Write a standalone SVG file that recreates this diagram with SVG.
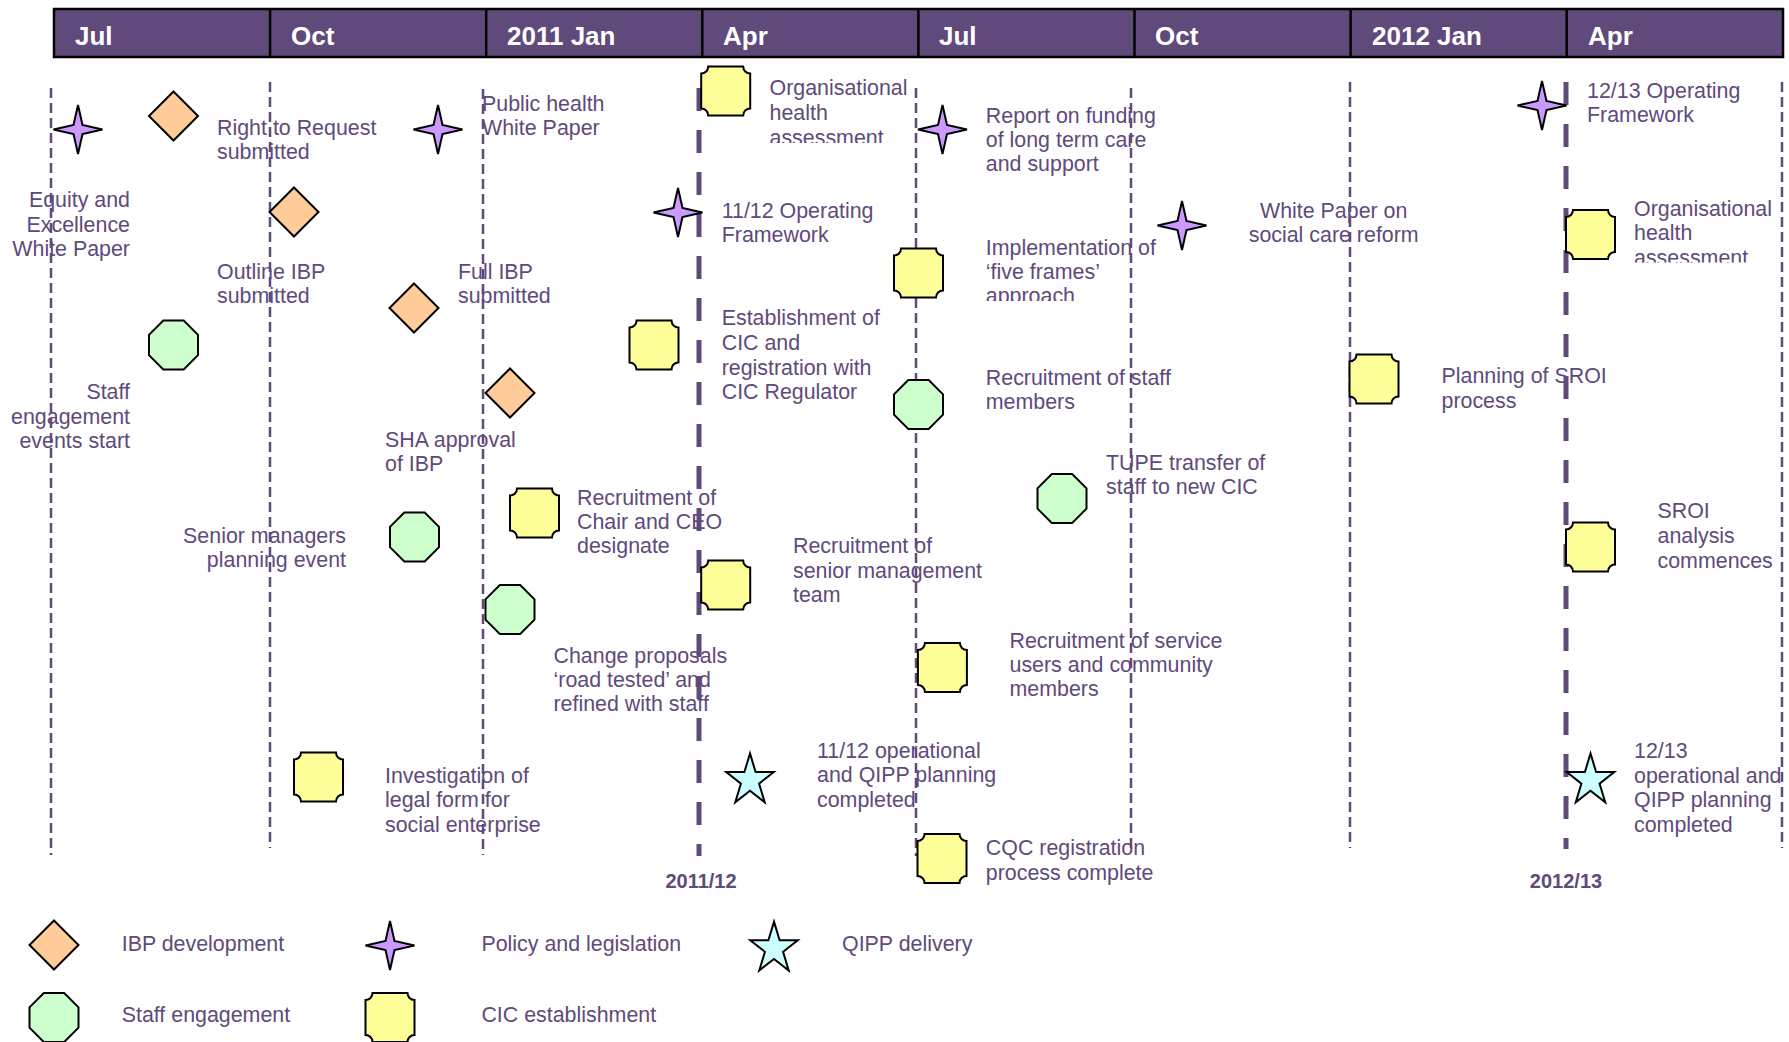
<svg xmlns="http://www.w3.org/2000/svg" width="1789" height="1042" viewBox="0 0 1789 1042">
<style>
.lbl{font-family:"Liberation Sans",Arial,sans-serif;font-size:21.4px;fill:#604A7B}
.end{text-anchor:end}
.mid{text-anchor:middle}
.hdr{font-family:"Liberation Sans",Arial,sans-serif;font-size:26px;font-weight:bold;fill:#fff}
.fy{font-family:"Liberation Sans",Arial,sans-serif;font-size:20px;font-weight:bold;fill:#604A7B;text-anchor:middle}
.thin{stroke:#604A7B;stroke-width:2.5;stroke-dasharray:10 5;fill:none}
.thick{stroke:#604A7B;stroke-width:5;stroke-dasharray:23 19;fill:none}
.shp{stroke:#000;stroke-width:2;stroke-linejoin:miter}
.ibp{fill:#FFCC99}
.pol{fill:#CC99FF}
.stf{fill:#CCFFCC}
.cic{fill:#FFFF99}
.qip{fill:#CCFFFF}
</style>
<defs>
<polygon id="diamond" points="0,-24.5 24.5,0 0,24.5 -24.5,0"/>
<polygon id="star4" points="0,-24.5 4.5,-4.5 24.5,0 4.5,4.5 0,24.5 -4.5,4.5 -24.5,0 -4.5,-4.5"/>
<polygon id="octagon" points="-10.2,-24.5 10.2,-24.5 24.5,-10.2 24.5,10.2 10.2,24.5 -10.2,24.5 -24.5,10.2 -24.5,-10.2"/>
<path id="plaque" d="M-17.5,-24.5 H17.5 A7,7 0 0 0 24.5,-17.5 V17.5 A7,7 0 0 0 17.5,24.5 H-17.5 A7,7 0 0 0 -24.5,17.5 V-17.5 A7,7 0 0 0 -17.5,-24.5 Z"/>
<polygon id="star5" points="0,-27 5.61,-8.35 23.78,-8.35 9.08,3.19 14.69,21.85 0,10.31 -14.69,21.85 -9.08,3.19 -23.78,-8.35 -5.61,-8.35" transform="translate(0,2.6)"/>
<clipPath id="clipA"><rect x="760" y="60" width="160" height="83"/></clipPath>
<clipPath id="clipB"><rect x="980" y="230" width="200" height="71"/></clipPath>
<clipPath id="clipC"><rect x="1625" y="190" width="164" height="72.5"/></clipPath>
</defs>

<g id="timeline-header">
<rect x="54" y="9" width="1729" height="48" fill="#604A7B" stroke="#000" stroke-width="2.5"/>
<g stroke="#000" stroke-width="2.5">
<line x1="270.1" y1="9" x2="270.1" y2="57"/>
<line x1="486.2" y1="9" x2="486.2" y2="57"/>
<line x1="702.3" y1="9" x2="702.3" y2="57"/>
<line x1="918.4" y1="9" x2="918.4" y2="57"/>
<line x1="1134.5" y1="9" x2="1134.5" y2="57"/>
<line x1="1350.6" y1="9" x2="1350.6" y2="57"/>
<line x1="1566.7" y1="9" x2="1566.7" y2="57"/>
</g>
<text class="hdr" x="75" y="45">Jul</text>
<text class="hdr" x="291" y="45">Oct</text>
<text class="hdr" x="507" y="45">2011 Jan</text>
<text class="hdr" x="723" y="45">Apr</text>
<text class="hdr" x="939" y="45">Jul</text>
<text class="hdr" x="1155" y="45">Oct</text>
<text class="hdr" x="1372" y="45">2012 Jan</text>
<text class="hdr" x="1588" y="45">Apr</text>
</g>

<g id="connectors">
<line class="thin" x1="51" y1="88" x2="51" y2="855"/>
<line class="thin" x1="270" y1="82" x2="270" y2="848"/>
<line class="thin" x1="483" y1="89" x2="483" y2="855"/>
<line class="thick" x1="699" y1="88" x2="699" y2="856"/>
<line class="thin" x1="916" y1="88" x2="916" y2="856"/>
<line class="thin" x1="1131" y1="88" x2="1131" y2="848"/>
<line class="thin" x1="1350" y1="82" x2="1350" y2="848"/>
<line class="thick" x1="1566" y1="82" x2="1566" y2="849"/>
<line class="thin" x1="1782" y1="82" x2="1782" y2="848"/>
</g>

<g id="fy-labels">
<text class="fy" x="701" y="888">2011/12</text>
<text class="fy" x="1566" y="888">2012/13</text>
</g>

<g id="n-equity">
<use href="#star4" class="shp pol" x="78" y="129.5"/>
<text class="lbl end"><tspan x="130" y="207">Equity and</tspan><tspan x="130" y="231.5">Excellence</tspan><tspan x="130" y="256">White Paper</tspan></text>
</g>
<g id="n-right-to-request">
<use href="#diamond" class="shp ibp" x="173.5" y="116"/>
<text class="lbl"><tspan x="217" y="135">Right to Request</tspan><tspan x="217" y="159">submitted</tspan></text>
</g>
<g id="n-outline-ibp">
<use href="#diamond" class="shp ibp" x="294" y="212"/>
<text class="lbl"><tspan x="217" y="279">Outline IBP</tspan><tspan x="217" y="303">submitted</tspan></text>
</g>
<g id="n-public-health">
<use href="#star4" class="shp pol" x="438" y="129.5"/>
<text class="lbl"><tspan x="482" y="111">Public health</tspan><tspan x="482" y="135">White Paper</tspan></text>
</g>
<g id="n-full-ibp">
<use href="#diamond" class="shp ibp" x="414" y="308"/>
<text class="lbl"><tspan x="458" y="279">Full IBP</tspan><tspan x="458" y="303">submitted</tspan></text>
</g>
<g id="n-staff-engagement">
<use href="#octagon" class="shp stf" x="173.5" y="345"/>
<text class="lbl end"><tspan x="130" y="399">Staff</tspan><tspan x="130" y="423.5">engagement</tspan><tspan x="130" y="448">events start</tspan></text>
</g>
<g id="n-sha-approval">
<use href="#diamond" class="shp ibp" x="510" y="393"/>
<text class="lbl"><tspan x="385" y="447">SHA approval</tspan><tspan x="385" y="471">of IBP</tspan></text>
</g>
<g id="n-senior-managers">
<use href="#octagon" class="shp stf" x="414.5" y="537"/>
<text class="lbl end"><tspan x="346" y="543">Senior managers</tspan><tspan x="346" y="567">planning event</tspan></text>
</g>
<g id="n-chair-ceo">
<use href="#plaque" class="shp cic" x="534.5" y="513"/>
<text class="lbl"><tspan x="577" y="505">Recruitment of</tspan><tspan x="577" y="529">Chair and CEO</tspan><tspan x="577" y="553">designate</tspan></text>
</g>
<g id="n-change-proposals">
<use href="#octagon" class="shp stf" x="510" y="609.5"/>
<text class="lbl"><tspan x="553.5" y="663">Change proposals</tspan><tspan x="553.5" y="687">‘road tested’ and</tspan><tspan x="553.5" y="711">refined with staff</tspan></text>
</g>
<g id="n-investigation">
<use href="#plaque" class="shp cic" x="318.5" y="777"/>
<text class="lbl"><tspan x="385" y="783">Investigation of</tspan><tspan x="385" y="807">legal form for</tspan><tspan x="385" y="832">social enterprise</tspan></text>
</g>
<g id="n-org-health-1">
<use href="#plaque" class="shp cic" x="725.7" y="91"/>
<text class="lbl" clip-path="url(#clipA)"><tspan x="769.5" y="95">Organisational</tspan><tspan x="769.5" y="120">health</tspan><tspan x="769.5" y="144.5">assessment</tspan></text>
</g>
<g id="n-op-framework-1112">
<use href="#star4" class="shp pol" x="678" y="212.5"/>
<text class="lbl"><tspan x="721.7" y="218">11/12 Operating</tspan><tspan x="721.7" y="242">Framework</tspan></text>
</g>
<g id="n-report-funding">
<use href="#star4" class="shp pol" x="942.5" y="129.5"/>
<text class="lbl"><tspan x="985.8" y="123">Report on funding</tspan><tspan x="985.8" y="147">of long term care</tspan><tspan x="985.8" y="171">and support</tspan></text>
</g>
<g id="n-white-paper-social">
<use href="#star4" class="shp pol" x="1182" y="225.5"/>
<text class="lbl mid"><tspan x="1333.7" y="218">White Paper on</tspan><tspan x="1333.7" y="242">social care reform</tspan></text>
</g>
<g id="n-five-frames">
<use href="#plaque" class="shp cic" x="918.5" y="273"/>
<text class="lbl" clip-path="url(#clipB)"><tspan x="985.8" y="255">Implementation of</tspan><tspan x="985.8" y="279">‘five frames’</tspan><tspan x="985.8" y="303">approach</tspan></text>
</g>
<g id="n-establishment-cic">
<use href="#plaque" class="shp cic" x="654" y="345"/>
<text class="lbl"><tspan x="721.7" y="325">Establishment of</tspan><tspan x="721.7" y="350">CIC and</tspan><tspan x="721.7" y="375">registration with</tspan><tspan x="721.7" y="399">CIC Regulator</tspan></text>
</g>
<g id="n-recruit-staff">
<use href="#octagon" class="shp stf" x="918.5" y="404.5"/>
<text class="lbl"><tspan x="985.8" y="385">Recruitment of staff</tspan><tspan x="985.8" y="409">members</tspan></text>
</g>
<g id="n-tupe">
<use href="#octagon" class="shp stf" x="1062" y="498.5"/>
<text class="lbl"><tspan x="1106" y="470">TUPE transfer of</tspan><tspan x="1106" y="494">staff to new CIC</tspan></text>
</g>
<g id="n-senior-team">
<use href="#plaque" class="shp cic" x="725.7" y="585"/>
<text class="lbl"><tspan x="793" y="553">Recruitment of</tspan><tspan x="793" y="578">senior management</tspan><tspan x="793" y="602">team</tspan></text>
</g>
<g id="n-service-users">
<use href="#plaque" class="shp cic" x="942.4" y="667.5"/>
<text class="lbl"><tspan x="1009.5" y="648">Recruitment of service</tspan><tspan x="1009.5" y="672">users and community</tspan><tspan x="1009.5" y="696">members</tspan></text>
</g>
<g id="n-qipp-1112">
<use href="#star5" class="shp qip" x="750" y="777.8"/>
<text class="lbl"><tspan x="817" y="758">11/12 operational</tspan><tspan x="817" y="782">and QIPP planning</tspan><tspan x="817" y="807">completed</tspan></text>
</g>
<g id="n-cqc">
<use href="#plaque" class="shp cic" x="942" y="858.5"/>
<text class="lbl"><tspan x="985.8" y="855">CQC registration</tspan><tspan x="985.8" y="880">process complete</tspan></text>
</g>
<g id="n-sroi-planning">
<use href="#plaque" class="shp cic" x="1374" y="379"/>
<text class="lbl"><tspan x="1441.5" y="383">Planning of SROI</tspan><tspan x="1441.5" y="408">process</tspan></text>
</g>
<g id="n-op-framework-1213">
<use href="#star4" class="shp pol" x="1542" y="105.5"/>
<text class="lbl"><tspan x="1587" y="98">12/13 Operating</tspan><tspan x="1587" y="122">Framework</tspan></text>
</g>
<g id="n-org-health-2">
<use href="#plaque" class="shp cic" x="1590.5" y="234.5"/>
<text class="lbl" clip-path="url(#clipC)"><tspan x="1634" y="216">Organisational</tspan><tspan x="1634" y="240">health</tspan><tspan x="1634" y="264.5">assessment</tspan></text>
</g>
<g id="n-sroi-analysis">
<use href="#plaque" class="shp cic" x="1590.5" y="547"/>
<text class="lbl"><tspan x="1657.5" y="518">SROI</tspan><tspan x="1657.5" y="543">analysis</tspan><tspan x="1657.5" y="568">commences</tspan></text>
</g>
<g id="n-qipp-1213">
<use href="#star5" class="shp qip" x="1590.5" y="777.8"/>
<text class="lbl"><tspan x="1634" y="758">12/13</tspan><tspan x="1634" y="783">operational and</tspan><tspan x="1634" y="807">QIPP planning</tspan><tspan x="1634" y="832">completed</tspan></text>
</g>

<g id="legend">
<g id="legend-ibp">
<use href="#diamond" class="shp ibp" x="54" y="945"/>
<text class="lbl" x="121.7" y="951">IBP development</text>
</g>
<g id="legend-policy">
<use href="#star4" class="shp pol" x="390" y="945.5"/>
<text class="lbl" x="481.4" y="951">Policy and legislation</text>
</g>
<g id="legend-qipp">
<use href="#star5" class="shp qip" x="774" y="946"/>
<text class="lbl" x="842" y="951">QIPP delivery</text>
</g>
<g id="legend-staff">
<use href="#octagon" class="shp stf" x="54" y="1017.5"/>
<text class="lbl" x="121.7" y="1022">Staff engagement</text>
</g>
<g id="legend-cic">
<use href="#plaque" class="shp cic" x="390" y="1017.5"/>
<text class="lbl" x="481.4" y="1022">CIC establishment</text>
</g>
</g>
</svg>
